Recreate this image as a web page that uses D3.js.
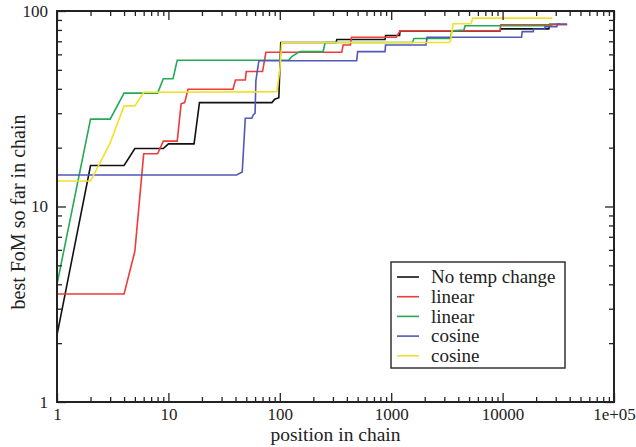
<!DOCTYPE html>
<html>
<head>
<meta charset="utf-8">
<script src="https://cdn.jsdelivr.net/npm/d3@7"></script>
<style>
    body { margin: 0; background: #fff; }
    svg text { font-family: 'Liberation Serif', 'DejaVu Serif', serif; }
</style>
</head>
<body>
<div id="chart"></div>
<script>
// best FoM so far, [position, value]
const noTempChange = [
    [1, 2.2], [2, 16.2], [4, 16.2], [5, 19.8], [9, 19.8], [10, 20.9], [17, 20.9], [19, 34],
    [85, 34], [90, 35.4], [98, 36], [102, 69], [320, 69], [325, 71.5], [880, 71.5], [890, 75],
    [1190, 75], [1200, 79], [9500, 79], [9600, 81], [26000, 81], [26500, 85.5], [33000, 85.5],
];
const linearA = [
    [1, 3.57], [4, 3.57], [5, 5.9], [6, 18.6], [8, 18.6], [9, 21.6], [12, 21.6], [13, 33.5],
    [14, 34], [15, 39.8], [38, 39.8], [40, 44.4], [49, 44.4], [50, 49], [70, 49], [75, 61.5],
    [360, 61.5], [370, 67], [430, 67], [440, 73.4], [1110, 73.4], [1200, 79.2], [9500, 79.2],
    [9600, 85], [38000, 85],
];
const linearB = [
    [1, 4.0], [2, 28], [3, 28], [4, 38], [8, 38], [9, 45], [11, 45], [12, 56], [120, 56],
    [128, 58.4], [151, 62], [245, 62], [255, 69], [1550, 69], [1600, 72.3], [3400, 72.3],
    [3500, 79.2], [4500, 80], [4600, 84], [28000, 84],
];
const cosineA = [
    [1, 14.5], [41, 14.5], [46, 15.0], [49, 28.3], [56, 28.3], [58, 29.5], [60, 30], [61, 44],
    [63, 50], [65, 55.7], [490, 55.7], [500, 62], [880, 62], [890, 67], [2050, 67], [2100, 73.4],
    [14800, 73.4], [15000, 78.4], [18800, 78.4], [19000, 80.6], [23900, 80.6], [24000, 83],
    [30700, 83], [31000, 85.8], [38000, 85.8],
];
const cosineB = [
    [1, 13.5], [2, 13.5], [3, 21.1], [4, 32.7], [5, 32.7], [6, 38.4], [94, 38.6], [100, 50],
    [104, 69], [3300, 69], [3400, 70], [3600, 86], [5200, 86], [5400, 92], [28000, 92],
];

const seriesNames = ['No temp change', 'linear', 'linear', 'cosine', 'cosine'];
const seriesData = [noTempChange, linearA, linearB, cosineA, cosineB];
const seriesColors = ['#111111', '#ee3b3b', '#22aa55', '#5058b8', '#f2e02a'];

const xTicks = [1, 10, 100, 1000, 10000, 100000];
const xTickLabels = ['1', '10', '100', '1000', '10000', '1e+05'];
const yTicks = [1, 10, 100];
const yTickLabels = ['1', '10', '100'];

const fontFamily = "'Liberation Serif', 'DejaVu Serif', serif";
const width = 636;
const height = 447;
const margin = { top: 11, right: 22, bottom: 45, left: 57 };

const svg = d3
    .select('#chart')
    .append('svg')
    .attr('width', width)
    .attr('height', height)
    .attr('viewBox', [0, 0, width, height])
    .attr('font-family', fontFamily);

const x = d3
    .scaleLog()
    .domain([1, 1e5])
    .range([margin.left, width - margin.right]);
const y = d3
    .scaleLog()
    .domain([1, 100])
    .range([height - margin.bottom, margin.top]);

// minor ticks 2..9 in each decade
const minor = (lo, hi) => {
    const out = [];
    for (let d = lo; d < hi; d *= 10) {
        for (let k = 2; k <= 9; k++) out.push(d * k);
    }
    return out;
};
const xMinor = minor(1, 1e5);
const yMinor = minor(1, 100);

const majorLen = 9;
const minorLen = 5;

// lines
const line = d3
    .line()
    .x((d) => x(d[0]))
    .y((d) => y(d[1]));

svg.append('g')
    .selectAll('path')
    .data(seriesData)
    .join('path')
    .attr('d', line)
    .attr('fill', 'none')
    .attr('stroke', (d, i) => seriesColors[i])
    .attr('stroke-width', 1.6)
    .attr('stroke-linejoin', 'miter');

// axes: inward ticks on all four sides
const axisBottom = d3.axisBottom(x).tickValues(xTicks).tickSize(-majorLen)
    .tickFormat((d, i) => xTickLabels[i]).tickPadding(6);
const axisBottomMinor = d3.axisBottom(x).tickValues(xMinor).tickSize(-minorLen).tickFormat('');
const axisTop = d3.axisTop(x).tickValues(xTicks).tickSize(-majorLen).tickFormat('');
const axisTopMinor = d3.axisTop(x).tickValues(xMinor).tickSize(-minorLen).tickFormat('');
const axisLeft = d3.axisLeft(y).tickValues(yTicks).tickSize(-majorLen)
    .tickFormat((d, i) => yTickLabels[i]).tickPadding(9);
const axisLeftMinor = d3.axisLeft(y).tickValues(yMinor).tickSize(-minorLen).tickFormat('');
const axisRight = d3.axisRight(y).tickValues(yTicks).tickSize(-majorLen).tickFormat('');
const axisRightMinor = d3.axisRight(y).tickValues(yMinor).tickSize(-minorLen).tickFormat('');

const bottomY = height - margin.bottom;
const rightX = width - margin.right;

const axes = [
    [axisBottom, `translate(0,${ bottomY })`],
    [axisBottomMinor, `translate(0,${ bottomY })`],
    [axisTop, `translate(0,${ margin.top })`],
    [axisTopMinor, `translate(0,${ margin.top })`],
    [axisLeft, `translate(${ margin.left },0)`],
    [axisLeftMinor, `translate(${ margin.left },0)`],
    [axisRight, `translate(${ rightX },0)`],
    [axisRightMinor, `translate(${ rightX },0)`],
];
axes.forEach(([ax, tr]) => {
    const g = svg.append('g').attr('transform', tr).call(ax);
    g.attr('font-family', fontFamily);
    g.select('.domain').remove();
    g.selectAll('.tick line').attr('stroke', '#222').attr('stroke-width', 1.3);
    g.selectAll('.tick text')
        .attr('font-family', fontFamily)
        .attr('font-size', 17)
        .attr('fill', '#222');
});

// frame
svg.append('rect')
    .attr('x', margin.left)
    .attr('y', margin.top)
    .attr('width', rightX - margin.left)
    .attr('height', bottomY - margin.top)
    .attr('fill', 'none')
    .attr('stroke', '#222')
    .attr('stroke-width', 2);

// axis titles
svg.append('text')
    .attr('x', (margin.left + rightX) / 2)
    .attr('y', 441)
    .attr('text-anchor', 'middle')
    .attr('font-family', fontFamily)
    .attr('font-size', 19.5)
    .attr('fill', '#222')
    .text('position in chain');

svg.append('text')
    .attr('transform', `translate(25,212) rotate(-90)`)
    .attr('text-anchor', 'middle')
    .attr('font-family', fontFamily)
    .attr('font-size', 20)
    .attr('fill', '#222')
    .text('best FoM so far in chain');

// legend
const legend = svg.append('g').attr('transform', 'translate(391,262)');
legend.append('rect')
    .attr('width', 174)
    .attr('height', 106)
    .attr('fill', '#fff')
    .attr('stroke', '#333')
    .attr('stroke-width', 1.5);
const rowH = 19.7;
const rows = legend
    .selectAll('.legend-row')
    .data(seriesNames)
    .join('g')
    .attr('class', 'legend-row')
    .attr('transform', (d, i) => `translate(0,${ 15 + i * rowH })`);
rows.append('line')
    .attr('x1', 6)
    .attr('x2', 28)
    .attr('stroke', (d, i) => seriesColors[i])
    .attr('stroke-width', 1.6);
rows.append('text')
    .attr('x', 40)
    .attr('dy', '0.33em')
    .attr('font-family', fontFamily)
    .attr('font-size', 19)
    .attr('fill', '#222')
    .text((d) => d);
</script>
</body>
</html>
